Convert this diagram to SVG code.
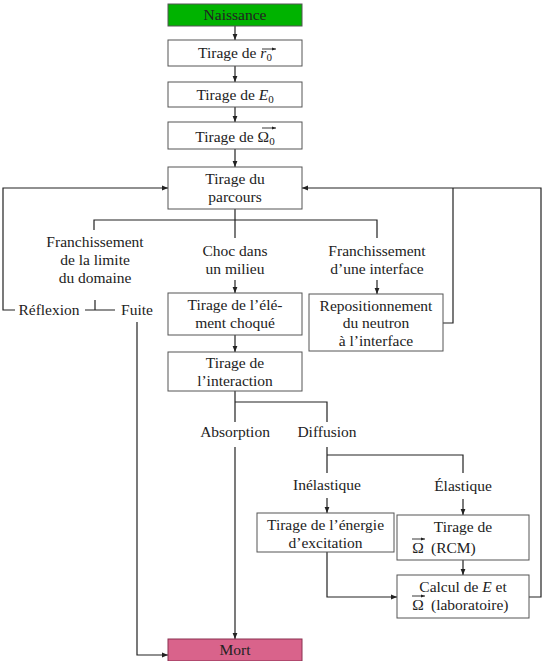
<svg xmlns="http://www.w3.org/2000/svg" width="544" height="661" viewBox="0 0 544 661" font-family="'Liberation Serif', 'Times New Roman', Tinos, 'DejaVu Serif', 'Noto Serif', Times, serif">
<defs>
<marker id="ah" viewBox="0 0 10 10" refX="10" refY="5" markerWidth="6" markerHeight="6" orient="auto" markerUnits="userSpaceOnUse"><path d="M0,1 L10,5 L0,9 z" fill="#222"/></marker>
<marker id="va" viewBox="0 0 10 10" refX="10" refY="5" markerWidth="4" markerHeight="4" orient="auto" markerUnits="userSpaceOnUse"><path d="M0,1 L10,5 L0,9 z" fill="#222"/></marker>
</defs>
<style>
text{font-family:'Liberation Serif','Times New Roman',Tinos,'DejaVu Serif','Noto Serif',Times,serif;font-size:15.5px;fill:#222;text-anchor:middle}
.box{fill:#fff;stroke:#555;stroke-width:1}
.c{fill:none;stroke:#222;stroke-width:1.2}
.a{marker-end:url(#ah)}
.v{fill:none;stroke:#222;stroke-width:0.9;marker-end:url(#va)}
.i{font-style:italic}
.s{font-size:11px}
</style>
<rect width="544" height="661" fill="#fff"/>
<g id="connectors">
<path class="c a" d="M235,26 V40"/>
<path class="c a" d="M235,66 V82"/>
<path class="c a" d="M235,107 V122"/>
<path class="c a" d="M235,149 V167"/>
<path class="c" d="M235,209 V238"/>
<path class="c" d="M94,230 V220 H377 V238"/>
<path class="c a" d="M235,280 V293"/>
<path class="c a" d="M377,280 V294"/>
<path class="c" d="M95,300 V310 M85,310 H115"/>
<path class="c a" d="M15,310 H3 V188 H168"/>
<path class="c a" d="M137,322 V655 H168"/>
<path class="c a" d="M235,335 V352"/>
<path class="c" d="M235,391 V422 M235,402 H327 V422"/>
<path class="c a" d="M235,447 V639"/>
<path class="c" d="M327,447 V473 M327,455 H463 V473"/>
<path class="c a" d="M327,498 V513"/>
<path class="c a" d="M463,499 V515"/>
<path class="c a" d="M463,560 V575"/>
<path class="c a" d="M327,552 V597 H397"/>
<path class="c a" d="M529,597 H541 V188 H302"/>
<path class="c" d="M443,323 H453 V188"/>
</g>
<g id="naissance"><rect x="168" y="4" width="134" height="22" fill="#00b300" stroke="#555"/><text x="235" y="20">Naissance</text></g>
<g id="tirage-r0"><rect class="box" x="168" y="40" width="134" height="26"/><text x="235" y="58">Tirage de <tspan class="i">r</tspan><tspan class="s" dy="3">0</tspan></text><path class="v" d="M262,49 H276"/></g>
<g id="tirage-e0"><rect class="box" x="168" y="82" width="134" height="25"/><text x="235" y="100">Tirage de <tspan class="i">E</tspan><tspan class="s" dy="3">0</tspan></text></g>
<g id="tirage-omega0"><rect class="box" x="168" y="122" width="134" height="27"/><text x="235" y="142">Tirage de Ω<tspan class="s" dy="3">0</tspan></text><path class="v" d="M262,128 H276"/></g>
<g id="parcours"><rect class="box" x="168" y="167" width="134" height="42"/><text x="235" y="184">Tirage du</text><text x="235" y="202">parcours</text></g>
<g id="limite"><text x="95" y="247">Franchissement</text><text x="95" y="265">de la limite</text><text x="95" y="283">du domaine</text></g>
<g id="choc"><text x="235" y="256">Choc dans</text><text x="235" y="274">un milieu</text></g>
<g id="interface"><text x="377" y="256">Franchissement</text><text x="377" y="274">d’une interface</text></g>
<g id="reflexion"><text x="49" y="315">Réflexion</text></g>
<g id="fuite"><text x="137" y="315">Fuite</text></g>
<g id="element"><rect class="box" x="168" y="293" width="134" height="42"/><text x="235" y="310">Tirage de l’élé-</text><text x="235" y="328">ment choqué</text></g>
<g id="repositionnement"><rect class="box" x="309" y="294" width="134" height="57"/><text x="376" y="311">Repositionnement</text><text x="376" y="328">du neutron</text><text x="376" y="346">à l’interface</text></g>
<g id="interaction"><rect class="box" x="168" y="352" width="134" height="39"/><text x="235" y="368">Tirage de</text><text x="235" y="386">l’interaction</text></g>
<g id="absorption"><text x="235" y="437">Absorption</text></g>
<g id="diffusion"><text x="327" y="437">Diffusion</text></g>
<g id="inelastique"><text x="327" y="490">Inélastique</text></g>
<g id="elastique"><text x="463" y="491">Élastique</text></g>
<g id="energie"><rect class="box" x="257" y="513" width="137" height="39"/><text x="325.5" y="530">Tirage de l’énergie</text><text x="325.5" y="548">d’excitation</text></g>
<g id="rcm"><rect class="box" x="397" y="515" width="132" height="45"/><text x="463" y="532">Tirage de</text><text x="418" y="553">Ω</text><text x="431" y="553" style="text-anchor:start">(RCM)</text><path class="v" d="M412,539 H425"/></g>
<g id="calcul"><rect class="box" x="397" y="575" width="132" height="43"/><text x="463" y="592">Calcul de <tspan class="i">E</tspan> et</text><text x="418" y="610">Ω</text><text x="431" y="610" style="text-anchor:start">(laboratoire)</text><path class="v" d="M412,596 H425"/></g>
<g id="mort"><rect x="168" y="639" width="134" height="22" fill="#d9638b" stroke="#8a3050"/><text x="235" y="655">Mort</text></g>
</svg>
